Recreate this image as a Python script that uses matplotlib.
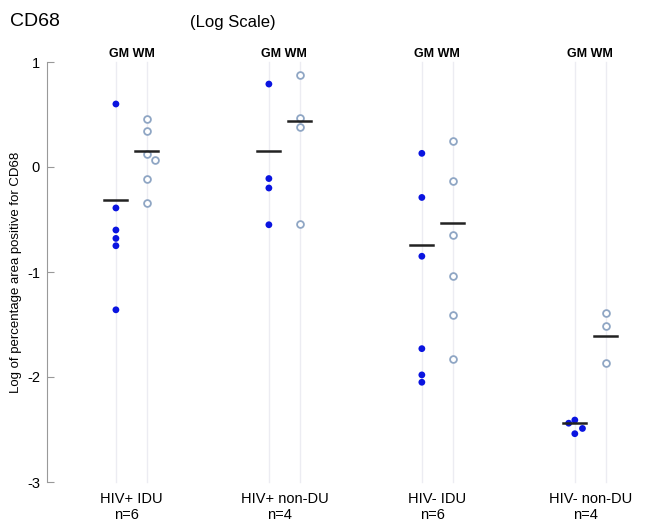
import matplotlib
matplotlib.use("Agg")
import matplotlib.pyplot as plt

# Groups and sample sizes
GROUPS = ["HIV+ IDU", "HIV+ non-DU", "HIV- IDU", "HIV- non-DU"]
N_LABELS = ["n=6", "n=4", "n=6", "n=4"]

# Log of percentage area positive for CD68
GM_VALUES = [
    [0.60, -0.39, -0.60, -0.68, -0.75, -1.36],
    [0.79, -0.11, -0.20, -0.55],
    [0.13, -0.29, -0.85, -1.73, -1.98, -2.05],
    [-2.41, -2.44, -2.49, -2.54],
]
WM_VALUES = [
    [0.46, 0.34, 0.12, 0.07, -0.11, -0.34],
    [0.88, 0.47, 0.38, -0.54],
    [0.25, -0.13, -0.65, -1.04, -1.41, -1.83],
    [-1.39, -1.51, -1.87],
]
# small horizontal jitter for overlapping points
GM_JITTER = [[0] * 6, [0] * 4, [0] * 6, [0, -0.04, 0.05, 0]]
WM_JITTER = [[0, 0, 0, 0.05, 0, 0], [0] * 4, [0] * 6, [0] * 3]

# Horizontal bars drawn in the figure
GM_MEANS = [-0.31, 0.15, -0.74, -2.44]
WM_MEANS = [0.15, 0.44, -0.53, -1.61]

fig = plt.figure(figsize=(6.5, 5.28), dpi=100)
ax = fig.add_axes([47 / 650, 1 - 482 / 528, (650 - 47) / 650, (482 - 62) / 528])

OFF = 0.1015
HALF = 0.075
for i in range(len(GROUPS)):
    gx = i - OFF
    wx = i + OFF
    # faint vertical guide lines
    for x in (gx, wx):
        ax.plot([x, x], [-3, 1], color="#ececf2", lw=1, zorder=0, clip_on=False)
    ax.scatter([gx + j for j in GM_JITTER[i]], GM_VALUES[i], s=24, color="#0a14e0",
               edgecolors="none", zorder=3)
    ax.scatter([wx + j for j in WM_JITTER[i]], WM_VALUES[i], s=24, facecolors="white",
               edgecolors="#8fa6c4", linewidths=1.3, zorder=3)
    ax.plot([gx - HALF, gx + HALF], [GM_MEANS[i]] * 2, color="#222222", lw=1.8, zorder=4)
    ax.plot([wx - HALF, wx + HALF], [WM_MEANS[i]] * 2, color="#222222", lw=1.8, zorder=4)
    ax.text(i, 1.08, "GM WM", ha="center", va="center", fontsize=9, fontweight="bold",
            fontfamily="Liberation Sans")
    ax.text(i, -3.16, GROUPS[i], ha="center", va="center", fontsize=10.5,
            fontfamily="Liberation Sans")
    ax.text(i - 0.03, -3.31, N_LABELS[i], ha="center", va="center", fontsize=10.5,
            fontfamily="Liberation Sans")

ax.set_xlim(-0.552, 3.39)
ax.set_ylim(-3, 1)
ax.set_yticks([1, 0, -1, -2, -3])
ax.set_yticklabels(["1", "0", "-1", "-2", "-3"], fontfamily="Liberation Sans", fontsize=10.5)
ax.set_xticks([])
ax.tick_params(axis="y", direction="in", length=5, color="#999999", pad=5)
for side in ("top", "right", "bottom"):
    ax.spines[side].set_visible(False)
ax.spines["left"].set_color("#999999")
ax.set_ylabel("Log of percentage area positive for CD68", fontsize=9.5,
              fontfamily="Liberation Sans")
ax.yaxis.set_label_coords(-0.042, 0.5)

fig.text(10 / 650, 1 - 22 / 528, "CD68", fontsize=14, ha="left", va="center",
         fontfamily="Liberation Sans")
fig.text(233 / 650, 1 - 22 / 528, "(Log Scale)", fontsize=12, ha="center", va="center",
         fontfamily="Liberation Sans")

fig.savefig("out.png", dpi=100)
